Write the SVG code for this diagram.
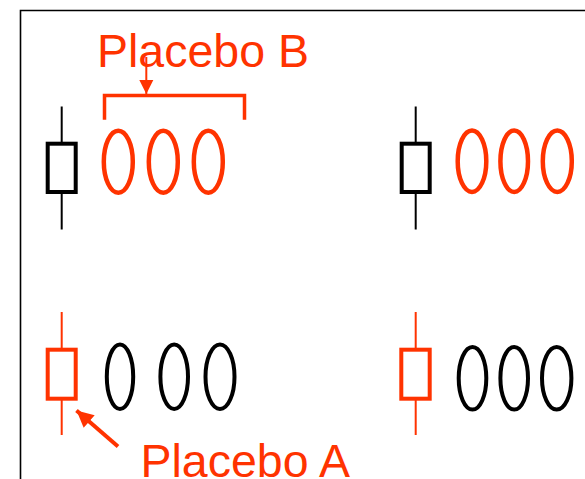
<svg xmlns="http://www.w3.org/2000/svg" width="585" height="479" viewBox="0 0 585 479">
  <style>
    .frame { fill: none; stroke: #000; stroke-width: 1.6; }
    .stem-k { stroke: #000; stroke-width: 2; }
    .stem-r { stroke: #FF3300; stroke-width: 2; }
    .box-k { fill: #fff; stroke: #000; stroke-width: 4; }
    .box-r { fill: #fff; stroke: #FF3300; stroke-width: 4; }
    .oval-r { fill: none; stroke: #FF3300; stroke-width: 4.5; }
    .oval-k { fill: none; stroke: #000; stroke-width: 4; }
    .label { font-family: "Liberation Sans", Arial, sans-serif; font-size: 46.5px; fill: #FF3300; }
    .pointer { stroke: #FF3300; fill: none; }
  </style>
  <defs>
    <marker id="tip" viewBox="0 0 10 10" refX="10" refY="5" markerWidth="4.4" markerHeight="4.2" markerUnits="strokeWidth" orient="auto">
      <path d="M0,0 L10,5 L0,10 Z" fill="#FF3300"/>
    </marker>
    <marker id="tip-thin" viewBox="0 0 10 10" refX="10" refY="5" markerWidth="7.2" markerHeight="8" markerUnits="strokeWidth" orient="auto">
      <path d="M0,0 L10,5 L0,10 Z" fill="#FF3300"/>
    </marker>
  </defs>

  <!-- frame -->
  <path class="frame" d="M20.5,479 V10.5 H585"/>

  <!-- top-left: black symbol, red ovals -->
  <g id="cell-top-left">
    <line class="stem-k" x1="61.7" y1="106.5" x2="61.7" y2="229.5"/>
    <rect class="box-k" x="47.7" y="143.7" width="28" height="48.3"/>
    <ellipse class="oval-r" cx="118.3" cy="161.7" rx="14.5" ry="31"/>
    <ellipse class="oval-r" cx="163.3" cy="161.7" rx="14.5" ry="31"/>
    <ellipse class="oval-r" cx="208.3" cy="161.7" rx="14.5" ry="31"/>
  </g>

  <!-- top-right: black symbol, red ovals -->
  <g id="cell-top-right">
    <line class="stem-k" x1="415.7" y1="106.5" x2="415.7" y2="229.5"/>
    <rect class="box-k" x="401.7" y="143.7" width="28" height="48.3"/>
    <ellipse class="oval-r" cx="472" cy="161.2" rx="14.3" ry="30.7"/>
    <ellipse class="oval-r" cx="514.2" cy="161.2" rx="13.8" ry="30.7"/>
    <ellipse class="oval-r" cx="557.3" cy="161.2" rx="14.5" ry="30.7"/>
  </g>

  <!-- bottom-left: red symbol, black ovals -->
  <g id="cell-bottom-left">
    <line class="stem-r" x1="61.7" y1="312" x2="61.7" y2="435"/>
    <rect class="box-r" x="47.7" y="349.7" width="28" height="49"/>
    <ellipse class="oval-k" cx="120" cy="376.7" rx="13.2" ry="32.3"/>
    <ellipse class="oval-k" cx="174.2" cy="376.7" rx="13.8" ry="32.3"/>
    <ellipse class="oval-k" cx="220" cy="376.7" rx="14.5" ry="32.3"/>
  </g>

  <!-- bottom-right: red symbol, black ovals -->
  <g id="cell-bottom-right">
    <line class="stem-r" x1="415.7" y1="312" x2="415.7" y2="435"/>
    <rect class="box-r" x="401.3" y="349.7" width="28.4" height="49"/>
    <ellipse class="oval-k" cx="472.5" cy="378.3" rx="13.8" ry="31.3"/>
    <ellipse class="oval-k" cx="514.2" cy="378.3" rx="13.8" ry="31.3"/>
    <ellipse class="oval-k" cx="556.7" cy="378.3" rx="14.7" ry="31.3"/>
  </g>

  <!-- labels -->
  <g id="label-placebo-b">
    <text class="label" x="97" y="66.7">Placebo B</text>
  </g>
  <g id="label-placebo-a">
    <text class="label" x="140.5" y="476.5">Placebo A</text>
  </g>

  <!-- connectors -->
  <g id="connectors">
    <path class="pointer" stroke-width="3.5" stroke-linecap="square" d="M104.5,118 V95.5 H244.5 V118"/>
    <line class="pointer" stroke-width="2" x1="146.3" y1="57" x2="146.3" y2="94" marker-end="url(#tip-thin)"/>
    <line class="pointer" stroke-width="4" x1="118" y1="446.5" x2="76.5" y2="410.5" marker-end="url(#tip)"/>
  </g>
</svg>
